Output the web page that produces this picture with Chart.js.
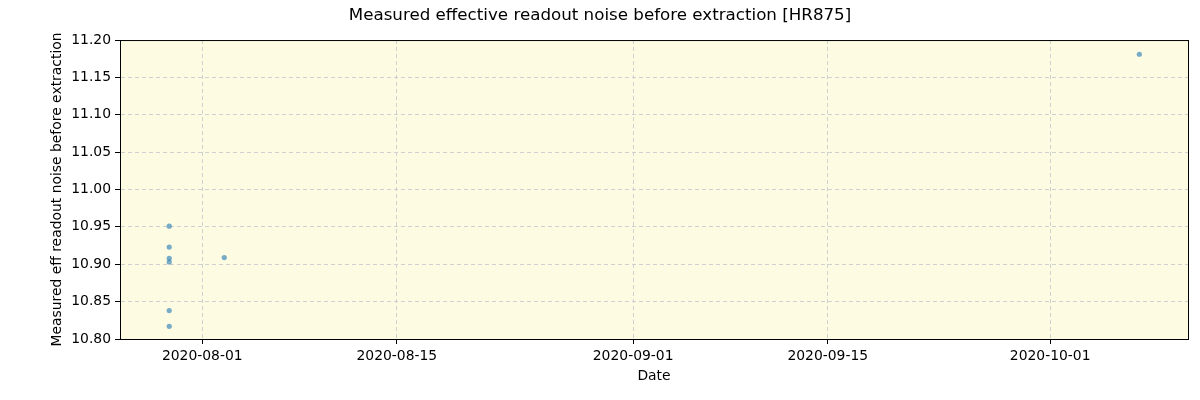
<!DOCTYPE html>
<html>
<head>
<meta charset="utf-8">
<script src="https://cdn.jsdelivr.net/npm/chart.js@4"></script>
<style>
  html, body { margin: 0; padding: 0; background: #fff; }
  #wrap { width: 1200px; height: 400px; }
</style>
</head>
<body>
<div id="wrap"><canvas id="chart"></canvas></div>
<script>
const dates = [
  '2020-07-29T15:00:00Z', '2020-07-29T15:00:00Z', '2020-07-29T15:00:00Z',
  '2020-07-29T15:00:00Z', '2020-07-29T15:00:00Z', '2020-07-29T15:00:00Z',
  '2020-08-02T14:00:00Z', '2020-10-07T10:00:00Z'
];
const noise = [10.951, 10.923, 10.908, 10.903, 10.838, 10.817, 10.909, 11.181];

const tickDates = ['2020-08-01', '2020-08-15', '2020-09-01', '2020-09-15', '2020-10-01'];
const xRange = ['2020-07-26T02:00:00Z', '2020-10-10T22:00:00Z'];
const yTicks = [10.80, 10.85, 10.90, 10.95, 11.00, 11.05, 11.10, 11.15, 11.20];

const DAY = 86400000;
const toDay = s => Date.parse(s) / DAY;
const font = "'DejaVu Sans', sans-serif";

const plotBg = {
  id: 'plotBg',
  beforeDraw(chart) {
    const { ctx, chartArea: a } = chart;
    ctx.save();
    ctx.fillStyle = '#fdfbe2';
    ctx.fillRect(a.left, a.top, a.right - a.left, a.bottom - a.top);
    ctx.restore();
  },
  afterDraw(chart) {
    const { ctx, chartArea: a } = chart;
    ctx.save();
    ctx.strokeStyle = '#000';
    ctx.lineWidth = 1;
    ctx.strokeRect(a.left + 0.5, a.top + 0.5, a.right - a.left, a.bottom - a.top);
    ctx.restore();
  }
};

new Chart(document.getElementById('chart'), {
  type: 'scatter',
  data: {
    datasets: [{
      data: dates.map((d, i) => ({ x: toDay(d), y: noise[i] })),
      backgroundColor: 'rgba(31,119,180,0.6)',
      borderColor: 'rgba(31,119,180,0.6)',
      borderWidth: 0,
      pointRadius: 2.6,
    }],
  },
  plugins: [plotBg],
  options: {
    responsive: true,
    maintainAspectRatio: false,
    animation: false,
    layout: { padding: { left: 0, right: 0, top: 0, bottom: 15 } },
    plugins: {
      legend: { display: false },
      tooltip: { enabled: false },
      title: {
        display: true,
        text: 'Measured effective readout noise before extraction [HR875]',
        color: '#000',
        font: { family: font, size: 16.7, weight: 'normal' },
        padding: { top: 6, bottom: 14 },
      },
    },
    scales: {
      x: {
        type: 'linear',
        min: toDay(xRange[0]),
        max: toDay(xRange[1]),
        afterBuildTicks: s => { s.ticks = tickDates.map(d => ({ value: toDay(d + 'T00:00:00Z') })); },
        afterFit: s => { s.height = 46; },
        ticks: {
          color: '#000',
          font: { family: font, size: 13.9 },
          padding: 4,
          maxRotation: 0,
          callback: v => new Date(v * DAY).toISOString().slice(0, 10),
        },
        grid: { color: '#d0d0d0', tickColor: '#000', tickLength: 5, drawTicks: true },
        border: { color: '#000', dash: [4, 3] },
        title: { display: true, text: 'Date', color: '#000', font: { family: font, size: 13.9 }, padding: { top: 2, bottom: 0 } },
      },
      y: {
        min: 10.8,
        max: 11.2,
        afterBuildTicks: s => { s.ticks = yTicks.map(v => ({ value: v })); },
        afterFit: s => { s.width = 120; },
        ticks: {
          color: '#000',
          font: { family: font, size: 13.9 },
          padding: 4,
          callback: v => v.toFixed(2),
        },
        grid: { color: '#d0d0d0', tickColor: '#000', tickLength: 5 },
        border: { color: '#000', dash: [4, 3] },
        title: {
          display: true,
          text: 'Measured eff readout noise before extraction',
          color: '#000',
          font: { family: font, size: 13.9 },
          padding: { top: 49, bottom: 2 },
        },
      },
      // empty right-hand margin so the title stays centred on the page
      yRight: {
        position: 'right',
        min: 10.8,
        max: 11.2,
        afterFit: s => { s.width = 12; },
        ticks: { display: false },
        grid: { display: false, drawTicks: false },
        border: { display: false },
      },
    },
  },
});
</script>
</body>
</html>
